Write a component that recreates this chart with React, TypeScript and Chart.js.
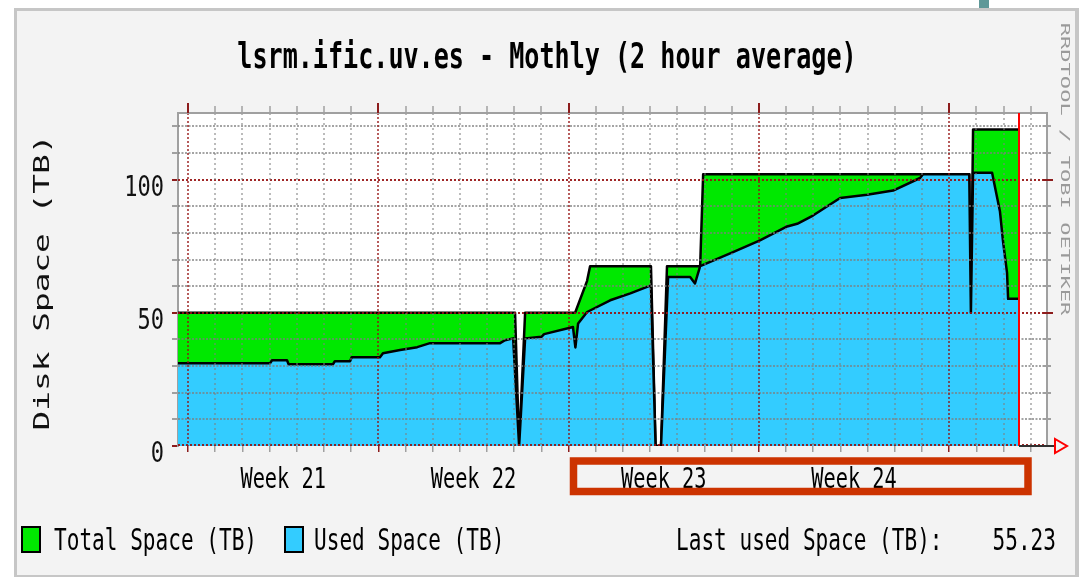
import React, { useEffect, useRef } from 'react';
import { Chart, registerables } from 'chart.js';

Chart.register(...registerables);

// ---------------- texts ----------------
const titleText = 'lsrm.ific.uv.es - Mothly (2 hour average)';
const yAxisTitle = 'Disk Space (TB)';
const sideText = 'RRDTOOL / TOBI OETIKER';
const legendTotal = 'Total Space (TB)';
const legendUsed = 'Used Space (TB)';
const lastUsedLabel = 'Last used Space (TB):';
const lastUsedValue = '55.23';

// ---------------- axes / ticks ----------------
const xMin = -0.37; // days since start of week 21
const xMax = 31.6;
const yMin = 0;
const yMax = 125;
const dayTicks = [0, 1, 2, 3, 4, 5, 6, 7, 8, 9, 10, 11, 12, 13, 14, 15, 16, 17, 18, 19, 20, 21, 22, 23, 24, 25, 26, 27, 28, 29, 30, 31];
const weekStartDays = [0, 7, 14, 21, 28];
const weekLabels = ['Week 21', 'Week 22', 'Week 23', 'Week 24'];
const weekLabelDays = [3.5, 10.5, 17.5, 24.5];
const yGridValues = [0, 10, 20, 30, 40, 50, 60, 70, 80, 90, 100, 110, 120];
const yMajorValues = [0, 50, 100];
const nowDay = 30.57;

// ---------------- series ----------------
const totalDays = [-0.37, 12.03, 12.18, 12.4, 14.24, 14.68, 14.79, 17.03, 17.2, 17.4, 17.62, 18.84, 18.95, 28.74, 28.8, 28.88, 30.57];
const totalTB = [50, 50, 0, 50, 50, 62, 67.5, 67.5, 0, 0, 67.5, 67.5, 102, 102, 50, 118.8, 118.8];

const usedDays = [-0.37, 3.02, 3.09, 3.64, 3.7, 5.33, 5.4, 5.96, 6.02, 7.06, 7.17, 7.8, 8.43, 8.9, 11.48, 11.66, 11.96, 12.18, 12.4, 13.0, 13.1, 14.16, 14.25, 14.35, 14.68, 15.53, 16.27, 17.03, 17.2, 17.4, 17.66, 18.47, 18.65, 18.84, 20.05, 21.04, 22.04, 22.41, 22.99, 23.99, 24.98, 25.94, 26.93, 27.04, 28.74, 28.8, 28.88, 29.58, 29.69, 29.87, 29.98, 30.13, 30.17, 30.57];
const usedTB = [31.1, 31.1, 32.2, 32.2, 30.7, 30.7, 31.8, 31.8, 33.3, 33.3, 34.8, 36.0, 37.1, 38.6, 38.6, 39.7, 40.4, 0, 40.4, 41.0, 42.0, 44.7, 37.0, 46.0, 50.3, 54.7, 57.3, 60.3, 0, 0, 63.4, 63.4, 61.0, 67.5, 72.8, 77.2, 82.4, 83.4, 86.5, 93.1, 94.3, 95.9, 100.6, 102, 102, 50, 102.6, 102.6, 97, 88, 77, 65, 55.23, 55.23];

const GREEN = '#00e800';
const BLUE = '#33ccff';
const GRID_MINOR = 'rgba(125,125,125,0.7)';
const GRID_MAJOR = 'rgba(150,16,16,0.9)';
const FONT = '"DejaVu Sans Mono", "Liberation Mono", monospace';

function drawScaledText(
  ctx: CanvasRenderingContext2D,
  text: string,
  x: number,
  y: number,
  size: number,
  sx: number,
  align: CanvasTextAlign,
  color: string,
  weight = 'normal',
  rot = 0
) {
  ctx.save();
  ctx.translate(x, y);
  if (rot) ctx.rotate(rot);
  ctx.scale(sx, 1);
  ctx.font = `${weight} ${size}px ${FONT}`;
  ctx.textAlign = align;
  ctx.textBaseline = 'alphabetic';
  ctx.fillStyle = color;
  ctx.fillText(text, 0, 0);
  ctx.restore();
}

const rrdPlugin = {
  id: 'rrdDecor',
  beforeDraw(chart: any) {
    const ctx: CanvasRenderingContext2D = chart.ctx;
    const { left, top, right, bottom } = chart.chartArea;
    ctx.save();
    ctx.fillStyle = '#ffffff';
    ctx.fillRect(0, 0, chart.width, chart.height);
    ctx.fillStyle = '#c6c6c6';
    ctx.fillRect(14, 8, 1065, 569);
    ctx.fillStyle = '#f3f3f3';
    ctx.fillRect(17, 11, 1058, 564);
    ctx.fillStyle = '#5f9898';
    ctx.fillRect(979, 0, 10, 8);
    ctx.fillStyle = '#ffffff';
    ctx.fillRect(left, top, right - left, bottom - top);
    ctx.restore();
  },
  afterDatasetsDraw(chart: any) {
    // RRDtool paints its dotted grid on top of the graph areas
    const ctx: CanvasRenderingContext2D = chart.ctx;
    const { left, top, right, bottom } = chart.chartArea;
    const xs = chart.scales.x;
    const ys = chart.scales.y;
    ctx.save();
    yGridValues.forEach((v) => {
      const major = yMajorValues.includes(v);
      const py = Math.round(ys.getPixelForValue(v)) + (v === 0 ? -1 : 0);
      ctx.lineWidth = 2;
      ctx.strokeStyle = major ? GRID_MAJOR : GRID_MINOR;
      ctx.setLineDash(major ? [2, 2] : [2, 1.5]);
      ctx.beginPath();
      ctx.moveTo(left, py);
      ctx.lineTo(right, py);
      ctx.stroke();
    });
    dayTicks.forEach((d) => {
      const major = weekStartDays.includes(d);
      const px = Math.round(xs.getPixelForValue(d));
      ctx.lineWidth = 1.5;
      ctx.strokeStyle = major ? GRID_MAJOR : GRID_MINOR;
      ctx.setLineDash(major ? [2, 2] : [2, 3]);
      ctx.beginPath();
      ctx.moveTo(px, top);
      ctx.lineTo(px, bottom);
      ctx.stroke();
    });
    ctx.restore();
  },
  afterDraw(chart: any) {
    const ctx: CanvasRenderingContext2D = chart.ctx;
    const { left, top, right, bottom } = chart.chartArea;
    const xs = chart.scales.x;
    const ys = chart.scales.y;
    ctx.save();

    // frame: top and right
    ctx.strokeStyle = '#a0a0a0';
    ctx.lineWidth = 2;
    ctx.beginPath();
    ctx.moveTo(left - 1, top);
    ctx.lineTo(right + 1, top);
    ctx.moveTo(right, top);
    ctx.lineTo(right, bottom);
    ctx.stroke();

    // top tick marks
    dayTicks.forEach((d) => {
      const px = Math.round(xs.getPixelForValue(d));
      const major = weekStartDays.includes(d);
      ctx.strokeStyle = major ? '#8c1c1c' : '#a0a0a0';
      ctx.lineWidth = major ? 2 : 1.5;
      ctx.beginPath();
      ctx.moveTo(px, top - (major ? 10 : 7));
      ctx.lineTo(px, top);
      ctx.stroke();
    });
    // right tick marks
    yGridValues.forEach((v) => {
      const py = Math.round(ys.getPixelForValue(v));
      const major = yMajorValues.includes(v);
      ctx.strokeStyle = major ? '#8c1c1c' : '#a0a0a0';
      ctx.lineWidth = 2;
      ctx.beginPath();
      ctx.moveTo(right - 4, py);
      ctx.lineTo(right + (major ? 6 : 4), py);
      ctx.stroke();
    });

    // "now" rule
    const nx = xs.getPixelForValue(nowDay);
    ctx.strokeStyle = '#ff0000';
    ctx.lineWidth = 2;
    ctx.beginPath();
    ctx.moveTo(nx, top);
    ctx.lineTo(nx, bottom);
    ctx.stroke();

    // x axis extension + arrow
    ctx.strokeStyle = '#303030';
    ctx.lineWidth = 2;
    ctx.beginPath();
    ctx.moveTo(nx, bottom);
    ctx.lineTo(right + 8, bottom);
    ctx.stroke();
    ctx.strokeStyle = '#ff0000';
    ctx.lineWidth = 2;
    ctx.beginPath();
    ctx.moveTo(right + 8, bottom - 7);
    ctx.lineTo(right + 8, bottom + 7);
    ctx.lineTo(right + 20, bottom);
    ctx.closePath();
    ctx.stroke();

    // title
    drawScaledText(ctx, titleText, 547, 68, 36, 0.697, 'center', '#000', 'bold');

    // y axis title (rotated, reading upwards)
    drawScaledText(ctx, yAxisTitle, 49, 282.5, 22, 1.49, 'center', '#111', 'normal', -Math.PI / 2);

    // side watermark
    drawScaledText(ctx, sideText, 1061, 169, 13, 1.7, 'center', '#9a9a9a', 'normal', Math.PI / 2);

    // y tick labels
    yMajorValues.forEach((v) => {
      const py = ys.getPixelForValue(v);
      drawScaledText(ctx, String(v), 164, py + 16, 29, 0.76, 'right', '#111');
    });

    // week labels
    weekLabels.forEach((lab, i) => {
      const px = xs.getPixelForValue(weekLabelDays[i]);
      drawScaledText(ctx, lab, px, 488, 29, 0.7, 'center', '#000');
    });

    // legend
    ctx.lineWidth = 2;
    ctx.strokeStyle = '#000';
    ctx.fillStyle = GREEN;
    ctx.fillRect(22, 527, 18, 25);
    ctx.strokeRect(22, 527, 18, 25);
    ctx.fillStyle = BLUE;
    ctx.fillRect(285, 527, 18, 25);
    ctx.strokeRect(285, 527, 18, 25);
    drawScaledText(ctx, legendTotal, 54, 550, 31, 0.68, 'left', '#000');
    drawScaledText(ctx, legendUsed, 314, 550, 31, 0.68, 'left', '#000');
    drawScaledText(ctx, lastUsedLabel, 676, 550, 31, 0.68, 'left', '#000');
    drawScaledText(ctx, lastUsedValue, 1056, 550, 31, 0.68, 'right', '#000');

    // highlight rectangle around week 23 / 24 labels
    ctx.strokeStyle = '#cc3300';
    ctx.lineWidth = 7.5;
    ctx.strokeRect(573.5, 461, 454.5, 30.5);

    ctx.restore();
  },
};

export default function App() {
  const canvasRef = useRef<HTMLCanvasElement>(null);

  useEffect(() => {
    const canvas = canvasRef.current;
    if (!canvas) return;
    const totalPoints = totalDays.map((d, i) => ({ x: d, y: totalTB[i] }));
    const usedPoints = usedDays.map((d, i) => ({ x: d, y: usedTB[i] }));
    const xTickValues = [...dayTicks, ...weekLabelDays].sort((a, b) => a - b);

    const chart = new Chart(canvas, {
      type: 'line',
      data: {
        datasets: [
          {
            label: legendTotal,
            data: totalPoints,
            borderColor: '#000000',
            borderWidth: 2.5,
            backgroundColor: GREEN,
            fill: 'origin',
            pointRadius: 0,
            tension: 0,
            borderJoinStyle: 'round',
            order: 2,
          },
          {
            label: legendUsed,
            data: usedPoints,
            borderColor: '#000000',
            borderWidth: 2.5,
            backgroundColor: BLUE,
            fill: 'origin',
            pointRadius: 0,
            tension: 0,
            borderJoinStyle: 'round',
            order: 1,
          },
        ],
      },
      options: {
        animation: false,
        responsive: false,
        maintainAspectRatio: false,
        events: [],
        layout: { padding: { left: 0, top: 113, right: 36, bottom: 0 } },
        plugins: {
          legend: { display: false },
          title: { display: false },
          tooltip: { enabled: false },
        },
        scales: {
          x: {
            type: 'linear',
            min: xMin,
            max: xMax,
            afterBuildTicks: (s: any) => {
              s.ticks = xTickValues.map((v) => ({ value: v }));
            },
            afterFit: (s: any) => {
              s.height = 131;
            },
            ticks: { display: false, autoSkip: false },
            grid: {
              drawOnChartArea: false,
              lineWidth: 1.5,
              tickLength: 6,
              color: (c: any) => {
                const v = c.tick ? c.tick.value : 0;
                if (weekLabelDays.includes(v)) return 'rgba(0,0,0,0)';
                return weekStartDays.includes(v) ? '#8c1c1c' : '#a0a0a0';
              },
            },
            border: { display: false },
          },
          y: {
            type: 'linear',
            min: yMin,
            max: yMax,
            afterBuildTicks: (s: any) => {
              s.ticks = yGridValues.map((v) => ({ value: v }));
            },
            afterFit: (s: any) => {
              s.width = 178;
            },
            ticks: { display: false, autoSkip: false },
            grid: {
              drawOnChartArea: false,
              lineWidth: 2,
              tickLength: 6,
              color: (c: any) => {
                const v = c.tick ? c.tick.value : 0;
                return yMajorValues.includes(v) ? '#8c1c1c' : '#a0a0a0';
              },
            },
            border: {
              display: true,
              color: '#a0a0a0',
              width: 2,
            },
          },
        },
      },
      plugins: [rrdPlugin],
    } as any);

    return () => chart.destroy();
  }, []);

  return (
    <div style={{ position: 'absolute', left: 0, top: 0, width: 1083, height: 577 }}>
      <canvas ref={canvasRef} width={1083} height={577} style={{ display: 'block', width: 1083, height: 577 }} />
    </div>
  );
}
